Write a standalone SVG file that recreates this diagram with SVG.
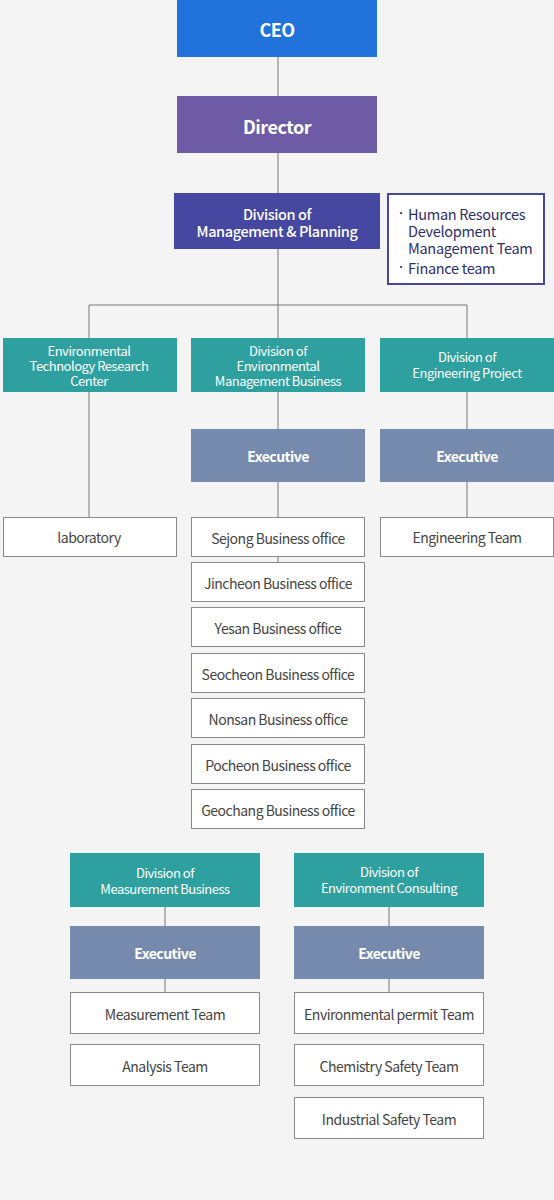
<svg xmlns="http://www.w3.org/2000/svg" width="554" height="1200" viewBox="0 0 554 1200">
<style>
text{font-family:"Noto Sans CJK KR","Noto Sans",sans-serif;text-anchor:middle;dominant-baseline:central;letter-spacing:-0.5px}
.top{fill:#fff;font-size:18px;font-weight:bold}
.mgmt{fill:#fff;font-size:14.5px;font-weight:500;letter-spacing:-0.4px}
.teal rect{fill:#2ea09f}
.tl{fill:#fff;font-size:13px}
.exec rect{fill:#768aad}
.et{fill:#fff;font-size:14px;font-weight:bold}
.team rect{fill:#fff;stroke:#8a8a8a;stroke-width:1}
.tt{fill:#444;font-size:14px}
.side{fill:#2e2e6a;font-size:14.5px;text-anchor:start;letter-spacing:-0.3px}
#connectors line{stroke:#777;stroke-width:1}
</style>
<rect width="554" height="1200" fill="#f4f4f4"/>
<g id="connectors">
<line x1="278" y1="57" x2="278" y2="96"/>
<line x1="278" y1="153" x2="278" y2="193"/>
<line x1="278" y1="249" x2="278" y2="338"/>
<line x1="89" y1="305" x2="467" y2="305"/>
<line x1="89" y1="305" x2="89" y2="338"/>
<line x1="467" y1="305" x2="467" y2="338"/>
<line x1="89" y1="392" x2="89" y2="517"/>
<line x1="278" y1="392" x2="278" y2="429"/>
<line x1="278" y1="482" x2="278" y2="517"/>
<line x1="278" y1="557" x2="278" y2="562"/>
<line x1="467" y1="392" x2="467" y2="429"/>
<line x1="467" y1="482" x2="467" y2="517"/>
<line x1="165" y1="907" x2="165" y2="926"/>
<line x1="165" y1="979" x2="165" y2="992"/>
<line x1="389" y1="907" x2="389" y2="926"/>
<line x1="389" y1="979" x2="389" y2="992"/>
</g>
<g id="ceo"><rect x="177" y="0" width="200" height="57" fill="#2272db"/><text class="top" x="277" y="29">CEO</text></g>
<g id="director"><rect x="177" y="96" width="200" height="57" fill="#6e5ba5"/><text class="top" x="277" y="126">Director</text></g>
<g id="mgmt"><rect x="174" y="193" width="206" height="56" fill="#4547a0"/><text class="mgmt" x="277" y="213">Division of<tspan x="277" dy="17">Management &amp; Planning</tspan></text></g>
<g id="mgmt-teams"><rect x="388" y="194" width="156" height="90" fill="#fff" stroke="#4547a0" stroke-width="2"/>
<text class="side" x="408" y="213"><tspan x="396" y="212" style="font-size:10px">・</tspan><tspan x="408" y="213">Human Resources</tspan><tspan x="408" y="230">Development</tspan><tspan x="408" y="247">Management Team</tspan><tspan x="396" y="266" style="font-size:10px">・</tspan><tspan x="408" y="267">Finance team</tspan></text></g>
<g id="etrc" class="teal"><rect x="3" y="338" width="174" height="54"/><text class="tl" x="89" y="350">Environmental<tspan x="89" dy="15">Technology Research</tspan><tspan x="89" dy="15">Center</tspan></text></g>
<g id="emb" class="teal"><rect x="191" y="338" width="174" height="54"/><text class="tl" x="278" y="350">Division of<tspan x="278" dy="15">Environmental</tspan><tspan x="278" dy="15">Management Business</tspan></text></g>
<g id="eng" class="teal"><rect x="380" y="338" width="174" height="54"/><text class="tl" x="467" y="356">Division of<tspan x="467" dy="16">Engineering Project</tspan></text></g>
<g id="exec-emb" class="exec"><rect x="191" y="429" width="174" height="53"/><text class="et" x="278" y="456">Executive</text></g>
<g id="exec-eng" class="exec"><rect x="380" y="429" width="174" height="53"/><text class="et" x="467" y="456">Executive</text></g>
<g id="lab" class="team"><rect x="3.5" y="517.5" width="173" height="39"/><text class="tt" x="89" y="537">laboratory</text></g>
<g id="engteam" class="team"><rect x="380.5" y="517.5" width="173" height="39"/><text class="tt" x="467" y="537">Engineering Team</text></g>
<g id="sejong" class="team"><rect x="191.5" y="517.5" width="173" height="39"/><text class="tt" x="278" y="538">Sejong Business office</text></g>
<g id="jincheon" class="team"><rect x="191.5" y="562.5" width="173" height="39"/><text class="tt" x="278" y="583">Jincheon Business office</text></g>
<g id="yesan" class="team"><rect x="191.5" y="607.5" width="173" height="39"/><text class="tt" x="278" y="628">Yesan Business office</text></g>
<g id="seocheon" class="team"><rect x="191.5" y="653.5" width="173" height="39"/><text class="tt" x="278" y="674">Seocheon Business office</text></g>
<g id="nonsan" class="team"><rect x="191.5" y="698.5" width="173" height="39"/><text class="tt" x="278" y="719">Nonsan Business office</text></g>
<g id="pocheon" class="team"><rect x="191.5" y="744.5" width="173" height="39"/><text class="tt" x="278" y="765">Pocheon Business office</text></g>
<g id="geochang" class="team"><rect x="191.5" y="789.5" width="173" height="39"/><text class="tt" x="278" y="810">Geochang Business office</text></g>
<g id="measure" class="teal"><rect x="70" y="853" width="190" height="54"/><text class="tl" x="165" y="872">Division of<tspan x="165" dy="16">Measurement Business</tspan></text></g>
<g id="consult" class="teal"><rect x="294" y="853" width="190" height="54"/><text class="tl" x="389" y="871">Division of<tspan x="389" dy="16">Environment Consulting</tspan></text></g>
<g id="exec-measure" class="exec"><rect x="70" y="926" width="190" height="53"/><text class="et" x="165" y="953">Executive</text></g>
<g id="exec-consult" class="exec"><rect x="294" y="926" width="190" height="53"/><text class="et" x="389" y="953">Executive</text></g>
<g id="measteam" class="team"><rect x="70.5" y="992.5" width="189" height="41"/><text class="tt" x="165" y="1014">Measurement Team</text></g>
<g id="analysis" class="team"><rect x="70.5" y="1044.5" width="189" height="41"/><text class="tt" x="165" y="1066">Analysis Team</text></g>
<g id="permit" class="team"><rect x="294.5" y="992.5" width="189" height="41"/><text class="tt" x="389" y="1014">Environmental permit Team</text></g>
<g id="chem" class="team"><rect x="294.5" y="1044.5" width="189" height="41"/><text class="tt" x="389" y="1066">Chemistry Safety Team</text></g>
<g id="industrial" class="team"><rect x="294.5" y="1097.5" width="189" height="41"/><text class="tt" x="389" y="1119">Industrial Safety Team</text></g>
</svg>
